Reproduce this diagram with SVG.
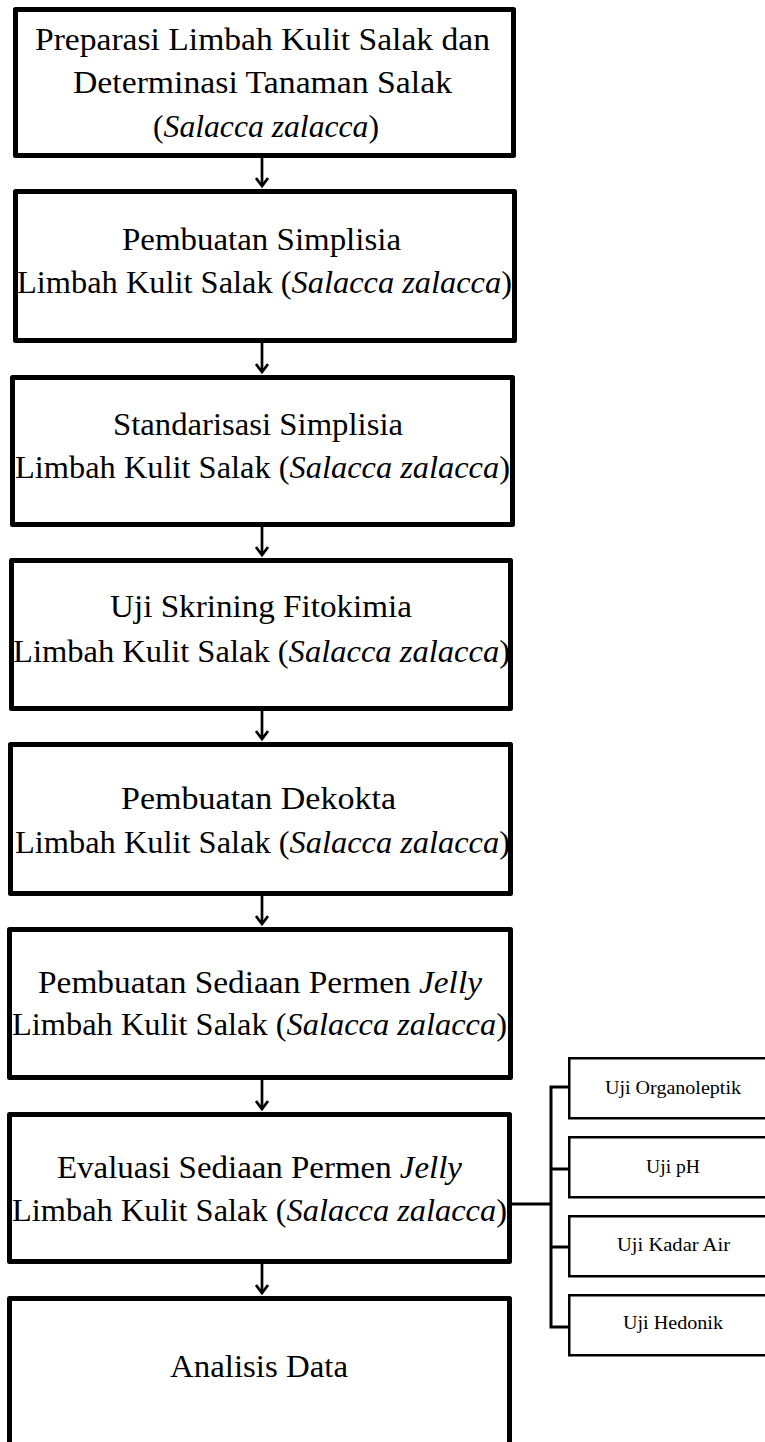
<svg xmlns="http://www.w3.org/2000/svg" width="765" height="1442" viewBox="0 0 765 1442">
<style>
.box{fill:#fff;stroke:#000;stroke-width:5;stroke-linejoin:round}
.sbox{fill:#fff;stroke:#000;stroke-width:2.5}
.t{font-family:"Liberation Serif","Times New Roman",serif;font-size:31px;fill:#000}
.s{font-family:"Liberation Serif","Times New Roman",serif;font-size:19px;fill:#000}
.i{font-style:italic}
.c{fill:none;stroke:#000;stroke-width:2.7}
.b{fill:none;stroke:#000;stroke-width:3}
</style>
<defs>
<marker id="ah" markerWidth="12" markerHeight="14" refX="9" refY="7" orient="auto" markerUnits="userSpaceOnUse" viewBox="0 0 12 14">
<path d="M1,1 L9,7 L1,13" fill="none" stroke="#000" stroke-width="2.7"/>
</marker>
</defs>
<rect x="0" y="0" width="765" height="1442" fill="#fff"/>
<g id="connectors">
<line class="c" x1="262" y1="158" x2="262" y2="186" marker-end="url(#ah)"/>
<line class="c" x1="262" y1="343" x2="262" y2="372" marker-end="url(#ah)"/>
<line class="c" x1="262" y1="527" x2="262" y2="555" marker-end="url(#ah)"/>
<line class="c" x1="262" y1="711" x2="262" y2="739" marker-end="url(#ah)"/>
<line class="c" x1="262" y1="896" x2="262" y2="924" marker-end="url(#ah)"/>
<line class="c" x1="262" y1="1080" x2="262" y2="1109" marker-end="url(#ah)"/>
<line class="c" x1="262" y1="1264" x2="262" y2="1293" marker-end="url(#ah)"/>
<path class="b" d="M512,1204 H551"/>
<path class="b" d="M569,1087 H551 V1327 H569"/>
<path class="b" d="M551,1169 H569"/>
<path class="b" d="M551,1247 H569"/>
</g>
<g id="n1">
<rect class="box" x="15.5" y="9.5" width="498" height="146"/>
<text class="t" x="35" y="50" textLength="455" lengthAdjust="spacingAndGlyphs">Preparasi Limbah Kulit Salak dan</text>
<text class="t" x="73" y="93" textLength="379" lengthAdjust="spacingAndGlyphs">Determinasi Tanaman Salak</text>
<text class="t" x="153" y="137" textLength="226" lengthAdjust="spacingAndGlyphs">(<tspan class="i">Salacca zalacca</tspan>)</text>
</g>
<g id="n2">
<rect class="box" x="15.5" y="191.5" width="499" height="149"/>
<text class="t" x="122" y="250" textLength="279" lengthAdjust="spacingAndGlyphs">Pembuatan Simplisia</text>
<text class="t" x="17" y="293" textLength="495" lengthAdjust="spacingAndGlyphs">Limbah Kulit Salak (<tspan class="i">Salacca zalacca</tspan>)</text>
</g>
<g id="n3">
<rect class="box" x="12.5" y="377.5" width="500" height="147"/>
<text class="t" x="113" y="435" textLength="290" lengthAdjust="spacingAndGlyphs">Standarisasi Simplisia</text>
<text class="t" x="15" y="478" textLength="495" lengthAdjust="spacingAndGlyphs">Limbah Kulit Salak (<tspan class="i">Salacca zalacca</tspan>)</text>
</g>
<g id="n4">
<rect class="box" x="11.5" y="560.5" width="499" height="148"/>
<text class="t" x="110" y="617" textLength="302" lengthAdjust="spacingAndGlyphs">Uji Skrining Fitokimia</text>
<text class="t" x="13" y="662" textLength="497" lengthAdjust="spacingAndGlyphs">Limbah Kulit Salak (<tspan class="i">Salacca zalacca</tspan>)</text>
</g>
<g id="n5">
<rect class="box" x="10.5" y="744.5" width="500" height="149"/>
<text class="t" x="121" y="809" textLength="275" lengthAdjust="spacingAndGlyphs">Pembuatan Dekokta</text>
<text class="t" x="15" y="853" textLength="495" lengthAdjust="spacingAndGlyphs">Limbah Kulit Salak (<tspan class="i">Salacca zalacca</tspan>)</text>
</g>
<g id="n6">
<rect class="box" x="9.5" y="929.5" width="501" height="148"/>
<text class="t" x="38" y="993" textLength="444" lengthAdjust="spacingAndGlyphs">Pembuatan Sediaan Permen <tspan class="i">Jelly</tspan></text>
<text class="t" x="12" y="1035" textLength="495" lengthAdjust="spacingAndGlyphs">Limbah Kulit Salak (<tspan class="i">Salacca zalacca</tspan>)</text>
</g>
<g id="n7">
<rect class="box" x="9.5" y="1114.5" width="500" height="147"/>
<text class="t" x="57" y="1178" textLength="405" lengthAdjust="spacingAndGlyphs">Evaluasi Sediaan Permen <tspan class="i">Jelly</tspan></text>
<text class="t" x="12" y="1221" textLength="495" lengthAdjust="spacingAndGlyphs">Limbah Kulit Salak (<tspan class="i">Salacca zalacca</tspan>)</text>
</g>
<g id="n8">
<rect class="box" x="9.5" y="1298.5" width="500" height="170"/>
<text class="t" x="170" y="1377" textLength="178" lengthAdjust="spacingAndGlyphs">Analisis Data</text>
</g>
<g id="s1">
<rect class="sbox" x="569.25" y="1058.25" width="210" height="60"/>
<text class="s" x="605" y="1094" textLength="136" lengthAdjust="spacingAndGlyphs">Uji Organoleptik</text>
</g>
<g id="s2">
<rect class="sbox" x="569.25" y="1137.25" width="210" height="60"/>
<text class="s" x="646" y="1173" textLength="54" lengthAdjust="spacingAndGlyphs">Uji pH</text>
</g>
<g id="s3">
<rect class="sbox" x="569.25" y="1216.25" width="210" height="60"/>
<text class="s" x="617" y="1251" textLength="113" lengthAdjust="spacingAndGlyphs">Uji Kadar Air</text>
</g>
<g id="s4">
<rect class="sbox" x="569.25" y="1295.25" width="210" height="60"/>
<text class="s" x="623" y="1329" textLength="100" lengthAdjust="spacingAndGlyphs">Uji Hedonik</text>
</g>
</svg>
